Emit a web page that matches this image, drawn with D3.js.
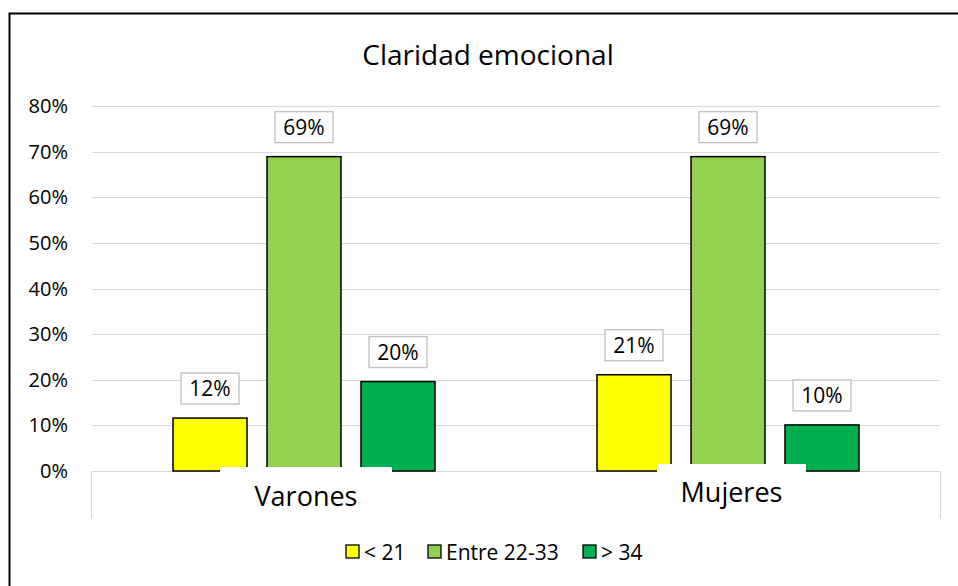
<!DOCTYPE html>
<html>
<head>
  <title>Claridad emocional</title>
  <script src="https://d3js.org/d3.v7.min.js"></script>
  <style>
    body { margin: 0; background: #fff; }
    text { font-family: "Open Sans", Calibri, sans-serif; fill: #000; }
  </style>
</head>
<body>
  <div id="chart"></div>
  <script type="text/javascript">

  var categories = ["Varones", "Mujeres"];
  var seriesNames = ["< 21", "Entre 22-33", "> 34"];
  var seriesColors = ["#ffff00", "#92d050", "#00b050"];
  var varonesValues = [0.116, 0.689, 0.196];
  var mujeresValues = [0.211, 0.689, 0.101];
  var yTicks = [0, 0.1, 0.2, 0.3, 0.4, 0.5, 0.6, 0.7, 0.8];

  var rows = [varonesValues, mujeresValues];

  var W = 958, H = 586;
  var plotLeft = 92, plotRight = 940, plotTop = 106, plotBottom = 471;

  var svg = d3.select("#chart").append("svg").attr("width", W).attr("height", H);

  // chart border
  svg.append("rect")
    .attr("x", 9.5).attr("y", 13.5).attr("width", 960).attr("height", 600)
    .attr("fill", "#fff").attr("stroke", "#000").attr("stroke-width", 2);

  svg.append("text")
    .attr("x", 488).attr("y", 65)
    .attr("text-anchor", "middle")
    .style("font-size", "28px")
    .text("Claridad emocional");

  var y = d3.scaleLinear().domain([0, 0.8]).range([plotBottom, plotTop]);
  var x0 = d3.scaleBand().domain(categories).range([plotLeft, plotRight]);
  var barW = 74, gap = 20;

  // gridlines
  svg.append("g").selectAll("line").data(yTicks.slice(1)).enter().append("line")
    .attr("x1", plotLeft).attr("x2", plotRight)
    .attr("y1", function(d){ return Math.round(y(d)) + 0.5; })
    .attr("y2", function(d){ return Math.round(y(d)) + 0.5; })
    .attr("stroke", "#d9d9d9").attr("stroke-width", 1);

  // y labels
  svg.append("g").selectAll("text").data(yTicks).enter().append("text")
    .attr("x", 68)
    .attr("y", function(d){ return y(d) + 7; })
    .attr("text-anchor", "end")
    .style("font-size", "20px")
    .text(function(d){ return d3.format(".0%")(d); });

  // category axis box
  svg.append("path")
    .attr("d", "M" + (plotLeft - 0.5) + ",518V" + (plotBottom + 0.5) + "H" + (plotRight + 0.5) + "V518")
    .attr("fill", "none").attr("stroke", "#d9d9d9").attr("stroke-width", 1);

  var groupW = barW * 3 + gap * 2;

  categories.forEach(function(cat, ci) {
    var cx = x0(cat) + x0.bandwidth() / 2;
    var start = cx - groupW / 2;
    var g = svg.append("g");
    g.selectAll("rect").data(rows[ci]).enter().append("rect")
      .attr("x", function(d, i){ return start + i * (barW + gap); })
      .attr("y", function(d){ return y(d); })
      .attr("width", barW)
      .attr("height", function(d){ return plotBottom - y(d); })
      .attr("fill", function(d, i){ return seriesColors[i]; })
      .attr("stroke", "#000").attr("stroke-width", 1.5);

    // data labels
    var lab = g.selectAll("g.lab").data(rows[ci]).enter().append("g")
      .attr("transform", function(d, i){
        return "translate(" + (start + i * (barW + gap) + barW / 2) + "," + (y(d) - 29.5) + ")";
      });
    lab.append("rect")
      .attr("x", -29).attr("y", -15.5).attr("width", 58).attr("height", 31)
      .attr("fill", "#fff").attr("stroke", "#bfbfbf").attr("stroke-width", 1.3);
    lab.append("text")
      .attr("text-anchor", "middle").attr("y", 7.5)
      .style("font-size", "21px")
      .text(function(d){ return d3.format(".0%")(d); });
  });

  // category labels with white background boxes
  var catBoxes = [{x: 220, y: 467, w: 172, ty: 506}, {x: 657, y: 464, w: 149, ty: 502}];
  categories.forEach(function(cat, ci) {
    var b = catBoxes[ci];
    svg.append("rect").attr("x", b.x).attr("y", b.y).attr("width", b.w).attr("height", 40).attr("fill", "#fff");
    svg.append("text")
      .attr("x", b.x + b.w / 2).attr("y", b.ty)
      .attr("text-anchor", "middle")
      .style("font-size", "27px")
      .text(cat);
  });

  // legend
  var legendX = [346, 428, 583];
  var legend = svg.append("g").selectAll("g").data(seriesNames).enter().append("g")
    .attr("transform", function(d, i){ return "translate(" + legendX[i] + ",545)"; });
  legend.append("rect")
    .attr("width", 13).attr("height", 13)
    .attr("fill", function(d, i){ return seriesColors[i]; })
    .attr("stroke", "#000").attr("stroke-width", 1.3);
  legend.append("text")
    .attr("x", 18).attr("y", 14.5)
    .style("font-size", "21px")
    .text(function(d){ return d; });

  </script>
</body>
</html>
